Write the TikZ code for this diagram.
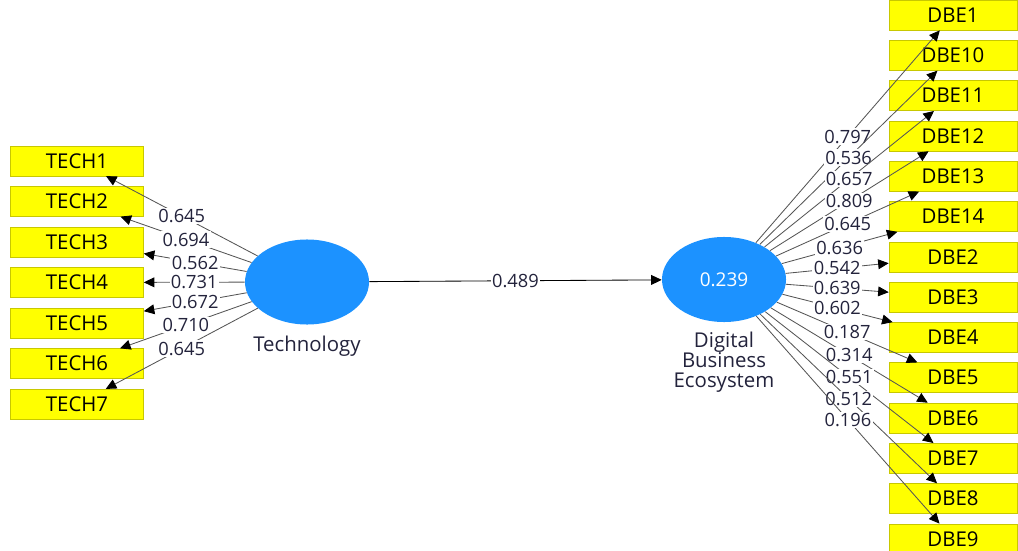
\documentclass[tikz,border=0pt]{standalone}
\usepackage{fontspec}
\setmainfont{Open Sans}
\usetikzlibrary{matrix,shapes.geometric,arrows.meta}

\definecolor{itemyellow}{RGB}{255,255,0}
\definecolor{itemborder}{RGB}{200,200,0}
\definecolor{lvblue}{RGB}{28,146,255}
\definecolor{pathgray}{RGB}{85,85,85}
\definecolor{numtext}{RGB}{35,35,60}

\tikzset{
    lv/.style={ellipse, fill=lvblue, minimum width=3.1cm, minimum height=2.125cm, inner sep=0pt},
    item/.style={draw=itemborder, fill=itemyellow, minimum height=0.75cm, anchor=center, inner sep=0pt, font=\fontsize{14.5}{16}\selectfont},
    load/.style={draw=pathgray, line width=0.6pt, -{Triangle[length=7.5pt,width=7pt,color=black]}},
    coef/.style={fill=white, inner sep=1pt, text=numtext, font=\fontsize{13}{15}\selectfont},
}

\begin{document}
\begin{tikzpicture}[x=0.025cm, y=-0.025cm]
    \useasboundingbox (0,0) rectangle (1018,551);
    % indicator blocks
    \matrix[matrix of nodes, nodes={item, minimum width=3.325cm}, row sep=0.25cm] (tech) at (77,282.5) {
        TECH1 \\ TECH2 \\ TECH3 \\ TECH4 \\ TECH5 \\ TECH6 \\ TECH7 \\
    };
    \matrix[matrix of nodes, nodes={item, minimum width=3.2cm}, row sep=0.243cm] (dbe) at (953,277) {
        DBE1 \\ DBE10 \\ DBE11 \\ DBE12 \\ DBE13 \\ DBE14 \\ DBE2 \\
        DBE3 \\ DBE4 \\ DBE5 \\ DBE6 \\ DBE7 \\ DBE8 \\ DBE9 \\
    };
    % latent variables
    \node[lv] (techlv) at (307,282) {};
    \node[lv, text=white, font=\fontsize{13.5}{15}\selectfont] (dbelv) at (724,279.5) {0.239};
    \node[text=numtext, font=\fontsize{14.5}{16}\selectfont] (techname) at (307,346) {Technology};
    \node[text=numtext, align=center, font=\fontsize{14.5}{14.2}\selectfont] (dbename) at (724,362) {Digital\\Business\\Ecosystem};
    % outer loadings
    \foreach \v [count=\i] in {0.645,0.694,0.562,0.731,0.672,0.710,0.645}
        \draw[load] (techlv) -- (tech-\i-1) node[midway, coef] {\v};
    \foreach \v [count=\i] in {0.797,0.536,0.657,0.809,0.645,0.636,0.542,0.639,0.602,0.187,0.314,0.551,0.512,0.196}
        \draw[load] (dbelv) -- (dbe-\i-1) node[midway, coef] {\v};
    % path coefficient
    \draw[load, draw=black] (techlv) -- (dbelv) node[midway, coef] {0.489};
\end{tikzpicture}
\end{document}
